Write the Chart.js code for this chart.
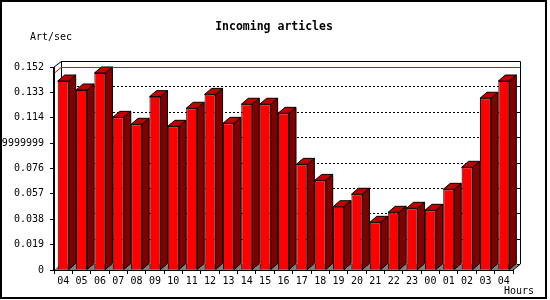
<!DOCTYPE html>
<html>
<head>
<meta charset="utf-8">
<script src="https://cdn.jsdelivr.net/npm/chart.js@4"></script>
<style>
  html, body { margin: 0; padding: 0; background: #fff; }
  canvas { display: block; }
</style>
</head>
<body>
<canvas id="chart" width="550" height="300"></canvas>
<script>
const hours = ['04','05','06','07','08','09','10','11','12','13','14','15','16',
               '17','18','19','20','21','22','23','00','01','02','03','04'];
const artPerSec = [0.1415, 0.1348, 0.1475, 0.1143, 0.1091, 0.1298, 0.1076, 0.1211, 0.1315,
                   0.1098, 0.1241, 0.1241, 0.1173, 0.0791, 0.0671, 0.0474, 0.0567, 0.0357,
                   0.0432, 0.0462, 0.0447, 0.0604, 0.0769, 0.1286, 0.1415];
const yTickValues = [0, 0.019, 0.038, 0.057, 0.076, 0.095, 0.114, 0.133, 0.152];
const yTickLabels = ['0', '0.019', '0.038', '0.057', '0.076', '0.0949999999', '0.114', '0.133', '0.152'];

const MONO = '"DejaVu Sans Mono", "Liberation Mono", monospace';
const DX = 7, DY = 6;

// 3D box: back wall, floor, grid, max line, then bar tops/sides
const box3d = {
    id: 'box3d',
    beforeDatasetsDraw(chart) {
        const { ctx, chartArea: a, scales: { y } } = chart;
        const L = a.left, R = a.right, T = a.top, B = a.bottom;
        ctx.save();
        // floor
        ctx.fillStyle = '#808080';
        ctx.beginPath();
        ctx.moveTo(L, B); ctx.lineTo(R, B); ctx.lineTo(R + DX, B - DY); ctx.lineTo(L + DX, B - DY);
        ctx.closePath(); ctx.fill();
        // dotted grid on back wall
        ctx.strokeStyle = '#000'; ctx.lineWidth = 1;
        ctx.setLineDash([2, 2]);
        yTickValues.forEach((v, i) => {
            if (i === 0 || i === yTickValues.length - 1) return;
            const py = Math.round(y.getPixelForValue(v) - DY) + 0.5;
            ctx.beginPath(); ctx.moveTo(L + DX, py); ctx.lineTo(R + DX, py); ctx.stroke();
        });
        ctx.setLineDash([]);
        // right wall ticks
        yTickValues.forEach((v) => {
            const py = Math.round(y.getPixelForValue(v) - DY) + 0.5;
            ctx.beginPath(); ctx.moveTo(R + DX - 3, py); ctx.lineTo(R + DX, py); ctx.stroke();
        });
        // wall outline
        ctx.beginPath();
        ctx.moveTo(L, T); ctx.lineTo(L + DX + 0.5, T - DY + 0.5);
        ctx.lineTo(R + DX + 0.5, T - DY + 0.5); ctx.lineTo(R + DX + 0.5, B - DY);
        ctx.lineTo(R, B);
        ctx.moveTo(L + DX + 0.5, T - DY); ctx.lineTo(L + DX + 0.5, B - DY);
        ctx.stroke();
        // max line
        const maxV = Math.max(...artPerSec);
        const my = Math.round(y.getPixelForValue(maxV) - DY) + 0.5;
        ctx.strokeStyle = '#ff0000';
        ctx.beginPath();
        ctx.moveTo(L, my + DY); ctx.lineTo(L + DX, my);
        ctx.lineTo(R + DX, my);
        ctx.stroke();
        ctx.restore();
    },
    afterDatasetsDraw(chart) {
        const { ctx } = chart;
        ctx.save();
        ctx.strokeStyle = '#000'; ctx.lineWidth = 1;
        chart.getDatasetMeta(0).data.forEach((el) => {
            const { x, y, base, width } = el.getProps(['x', 'y', 'base', 'width'], true);
            const l = x - width / 2, r = x + width / 2;
            ctx.fillStyle = '#800000';
            ctx.beginPath();
            ctx.moveTo(r, y); ctx.lineTo(r + DX, y - DY); ctx.lineTo(r + DX, base - DY); ctx.lineTo(r, base);
            ctx.closePath(); ctx.fill(); ctx.stroke();
            ctx.fillStyle = '#c00000';
            ctx.beginPath();
            ctx.moveTo(l, y); ctx.lineTo(l + DX, y - DY); ctx.lineTo(r + DX, y - DY); ctx.lineTo(r, y);
            ctx.closePath(); ctx.fill(); ctx.stroke();
        });
        ctx.restore();
    },
    afterDraw(chart) {
        const { ctx, chartArea: a } = chart;
        ctx.save();
        ctx.strokeStyle = '#000';
        ctx.lineWidth = 2;
        ctx.beginPath(); ctx.moveTo(a.left, a.top); ctx.lineTo(a.left, a.bottom + 1); ctx.stroke();
        ctx.lineWidth = 1;
        ctx.beginPath(); ctx.moveTo(a.left, a.bottom + 0.5); ctx.lineTo(a.right, a.bottom + 0.5); ctx.stroke();
        // frame
        ctx.lineWidth = 2;
        ctx.strokeRect(1, 1, 545, 297);
        // texts
        ctx.fillStyle = '#000';
        ctx.textBaseline = 'middle';
        ctx.font = 'bold 11.5px ' + MONO;
        ctx.textAlign = 'center';
        ctx.fillText('Incoming articles', 274, 27);
        ctx.font = '10px ' + MONO;
        ctx.textAlign = 'left';
        ctx.fillText('Art/sec', 30, 37);
        ctx.fillText('Hours', 504, 291);
        ctx.restore();
    }
};

new Chart(document.getElementById('chart'), {
    type: 'bar',
    data: {
        labels: hours,
        datasets: [{
            data: artPerSec,
            backgroundColor: '#ff0000',
            borderColor: '#000000',
            borderWidth: 1,
            categoryPercentage: 1,
            barPercentage: 0.6,
        }],
    },
    options: {
        responsive: false,
        animation: false,
        layout: { padding: { top: 67, right: 37, left: 0, bottom: 0 } },
        plugins: { legend: { display: false }, tooltip: { enabled: false } },
        scales: {
            x: {
                afterFit: (s) => { s.height = 30; },
                grid: { drawOnChartArea: false, drawTicks: true, tickLength: 4, color: '#000', offset: true },
                border: { display: false },
                ticks: { color: '#000', font: { family: MONO, size: 10 }, padding: 1, maxRotation: 0, autoSkip: false },
            },
            y: {
                min: 0,
                max: 0.152,
                afterFit: (s) => { s.width = 54; },
                afterBuildTicks: (s) => { s.ticks = yTickValues.map((v) => ({ value: v })); },
                grid: { drawOnChartArea: false, drawTicks: true, tickLength: 4, color: '#000' },
                border: { display: false },
                ticks: {
                    color: '#000', font: { family: MONO, size: 10 }, padding: 6,
                    callback: (v, i) => yTickLabels[i],
                },
            },
        },
    },
    plugins: [box3d],
});
</script>
</body>
</html>
